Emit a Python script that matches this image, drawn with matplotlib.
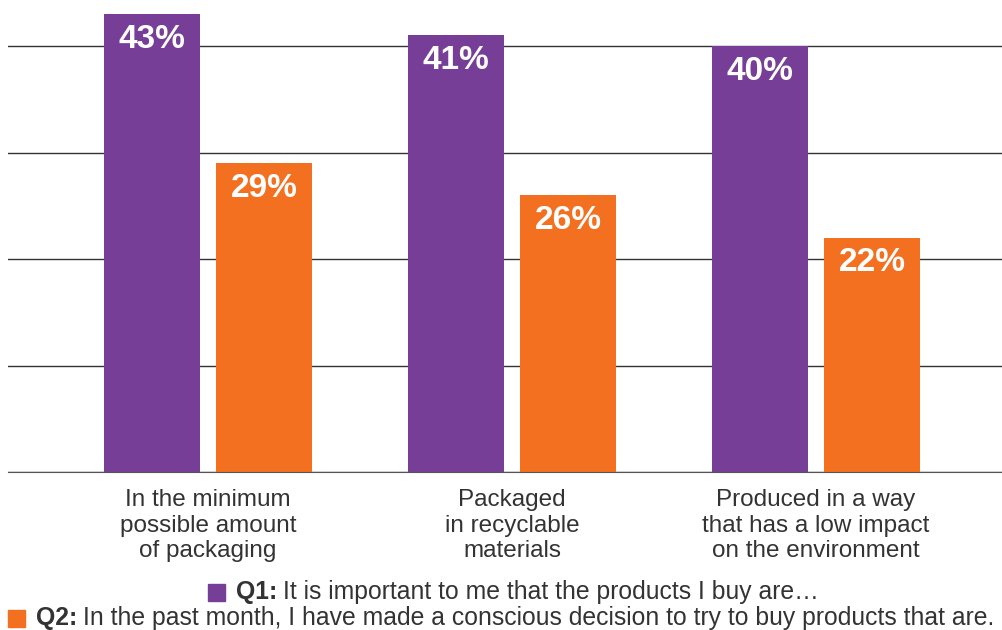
import numpy as np
import matplotlib.pyplot as plt
from matplotlib.patches import Rectangle

categories = ['In the minimum\npossible amount\nof packaging',
              'Packaged\nin recyclable\nmaterials',
              'Produced in a way\nthat has a low impact\non the environment']
q1 = [43, 41, 40]
q2 = [29, 26, 22]
q1_label = 'It is important to me that the products I buy are\u2026'
q2_label = 'In the past month, I have made a conscious decision to try to buy products that are.'

purple = '#763E96'
orange = '#F37021'
plt.rcParams['font.family'] = ['Liberation Sans', 'DejaVu Sans']

fig = plt.figure(figsize=(10.03, 6.30), dpi=100)
ax = fig.add_axes([8 / 1003, 158 / 630, 995 / 1003, 472 / 630])

x = np.arange(len(categories))
w = 96 / 304
off = 56 / 304
b1 = ax.bar(x - off, q1, w, color=purple, zorder=3)
b2 = ax.bar(x + off, q2, w, color=orange, zorder=3)

for bars, vals in [(b1, q1), (b2, q2)]:
    for r, v in zip(bars, vals):
        ax.annotate('%d%%' % v, (r.get_x() + r.get_width() / 2, v),
                    xytext=(0, -25), textcoords='offset pixels',
                    ha='center', va='center', color='white',
                    fontsize=24, fontweight='bold', zorder=4)

ax.set_xlim(-200 / 304, 795 / 304)
ax.set_ylim(0, 472 / 10.65)
ax.set_yticks([0, 10, 20, 30, 40])
ax.yaxis.grid(True, color='#333333', linewidth=1.0, zorder=0)
ax.tick_params(left=False, labelleft=False, bottom=False, length=0)
ax.set_xticks(x)
ax.set_xticklabels(categories, fontsize=17.5, color='#333333', linespacing=1.23)
ax.tick_params(axis='x', pad=12)
for s in ['top', 'right', 'left']:
    ax.spines[s].set_visible(False)
ax.spines['bottom'].set_color('#555555')
ax.spines['bottom'].set_zorder(5)

# legend drawn by hand
fig.canvas.draw()
rend = fig.canvas.get_renderer()

def legend_row(xpix, ypix, color, tag, label):
    fig.patches.append(Rectangle((xpix / 1003, (630 - ypix - 8.5) / 630), 17 / 1003, 17 / 630,
                                 transform=fig.transFigure, color=color, figure=fig))
    t = fig.text((xpix + 28) / 1003, (630 - ypix) / 630, tag, fontsize=17.8,
                 fontweight='bold', color='#333333', va='center')
    bb = t.get_window_extent(rend)
    fig.text((bb.x1 + 6) / 1003, (630 - ypix) / 630, label, fontsize=17.8,
             color='#333333', va='center')

legend_row(208, 592, purple, 'Q1:', q1_label)
legend_row(8, 618, orange, 'Q2:', q2_label)

fig.savefig('out.png', dpi=100)
